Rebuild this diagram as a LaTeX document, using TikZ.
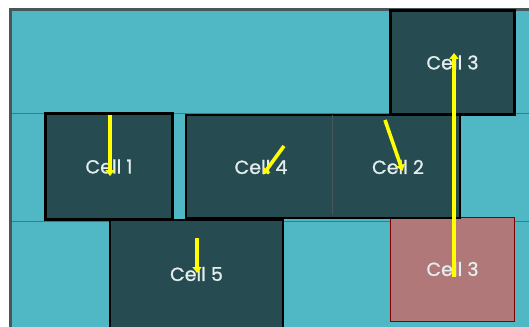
\documentclass[tikz,border=0pt]{standalone}
\usepackage{fontspec}
\setmainfont{Poppins}
\newfontfamily\cellfont{Poppins}[FakeBold=1]
\usetikzlibrary{arrows.meta}
\definecolor{teal}{RGB}{80,184,196}
\definecolor{cellbg}{RGB}{38,76,82}
\definecolor{pinkbg}{RGB}{176,120,120}
\definecolor{frame}{RGB}{72,88,90}
\definecolor{gridl}{RGB}{70,120,128}
\definecolor{txt}{RGB}{228,238,238}
\definecolor{yel}{RGB}{255,255,0}
\tikzset{
  lbl/.style={text=txt, font=\cellfont\fontsize{19}{19}\selectfont},
  cellbox/.style={draw=black, line width=2.6pt, fill=cellbg, inner sep=0pt, lbl},
  pinkbox/.style={draw=red!50!black, line width=0.8pt, fill=pinkbg, inner sep=0pt, lbl},
  move/.style={draw=yel, line width=3.6pt, -{Triangle[length=6pt,width=9pt]}, shorten >=-3pt}
}
\begin{document}
\begin{tikzpicture}[x=1pt,y=-1pt]
\useasboundingbox (0,0) rectangle (529,326);
\fill[white] (0,0) rectangle (529,326);
\draw[frame, line width=3pt, fill=teal] (10.5,9.5) rectangle (540,340);
\draw[gridl, line width=0.8pt] (12,113) -- (529,113);
\draw[gridl, line width=0.8pt] (12,221) -- (529,221);
% cells
\node[cellbox, minimum width=124pt, minimum height=104pt] (c3t) at (452.5,62.5) {Cell 3};
\node[pinkbox, minimum width=124pt, minimum height=104pt] (c3b) at (452.5,269) {Cell 3};
\node[cellbox, minimum width=127pt, minimum height=106pt] (c1) at (109,166.5) {Cell 1};
\node[cellbox, minimum width=274pt, minimum height=103pt] (c42) at (323,166.5) {};
\node[inner sep=0pt, lbl] (c4) at (261,167) {Cell 4};
\node[inner sep=0pt, lbl] (c2) at (398,167) {Cell 2};
\draw[frame, line width=1pt] (c42.north west) ++(148,1.5) coordinate (divt) -- ++(0,100) coordinate (divb);
\node[cellbox, minimum width=173pt, minimum height=108pt] (c5) at (196.5,274) {Cell 5};
% arrow end points
\coordinate (a1s) at (110,115);
\coordinate (a1e) at (110,173);
\coordinate (a4s) at (284,146);
\coordinate (a4e) at (265,172);
\coordinate (a2s) at (385,120);
\coordinate (a2e) at (401.5,168);
\coordinate (a5s) at (197,238);
\coordinate (a5e) at (197,270);
\coordinate (a3s) at (454,277);
\coordinate (a3e) at (454,56);
\draw[move] (a1s) -- (a1e);
\draw[move] (a4s) -- (a4e);
\draw[move] (a2s) -- (a2e);
\draw[move] (a5s) -- (a5e);
\draw[move] (a3s) -- (a3e);
\end{tikzpicture}
\end{document}
